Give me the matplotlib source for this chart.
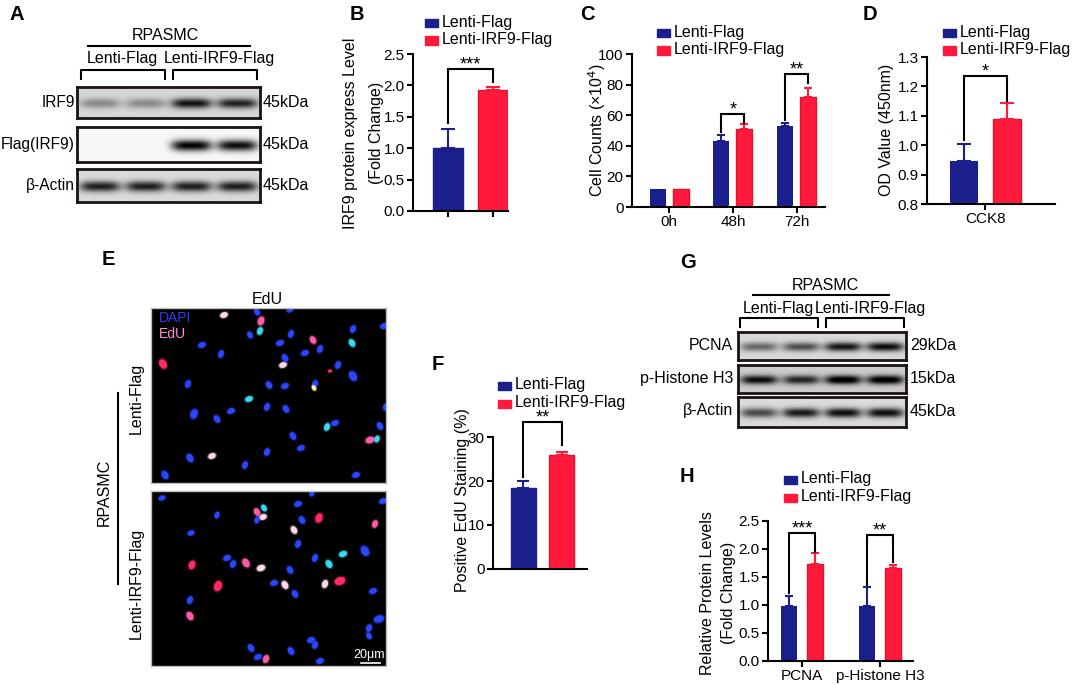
import numpy as np
import matplotlib
matplotlib.use("Agg")
import matplotlib.pyplot as plt
from matplotlib.patches import Rectangle

plt.rcParams["font.family"] = ["Liberation Sans", "DejaVu Sans"]
plt.rcParams["font.size"] = 11.5
plt.rcParams["axes.linewidth"] = 1.2

W, H = 1072, 685
BLUE = "#1b1f8c"
RED = "#ff1a3c"

# ---- data ----
legend_labels = ["Lenti-Flag", "Lenti-IRF9-Flag"]

# B: IRF9 protein level
b_vals = [1.00, 1.93]
b_err = [0.30, 0.05]

# C: cell counts
c_groups = ["0h", "48h", "72h"]
c_flag = [12, 43, 53]
c_flag_err = [0, 4, 2]
c_irf9 = [12, 51, 72]
c_irf9_err = [0, 3, 6]

# D: CCK8
d_groups = ["CCK8"]
d_flag = [0.945]
d_flag_err = [0.06]
d_irf9 = [1.089]
d_irf9_err = [0.054]

# F: EdU staining
f_vals = [18.4, 25.9]
f_err = [1.6, 0.7]

# H: relative protein levels
h_groups = ["PCNA", "p-Histone H3"]
h_flag = [0.99, 0.99]
h_flag_err = [0.17, 0.33]
h_irf9 = [1.74, 1.66]
h_irf9_err = [0.19, 0.05]

# western blot band intensities (4 lanes)
a_rows = ["IRF9", "Flag(IRF9)", "β-Actin"]
a_kda = ["45kDa", "45kDa", "45kDa"]
a_bands = [[0.30, 0.30, 0.78, 0.72],
           [0.00, 0.00, 0.97, 0.92],
           [0.75, 0.75, 0.75, 0.75]]
a_bg = [0.84, 0.97, 0.86]

g_rows = ["PCNA", "p-Histone H3", "β-Actin"]
g_kda = ["29kDa", "15kDa", "45kDa"]
g_bands = [[0.45, 0.55, 0.78, 0.82],
           [0.78, 0.68, 0.88, 0.88],
           [0.58, 0.78, 0.82, 0.82]]
g_bg = [0.85, 0.80, 0.86]

# EdU nuclei (x, y in px inside each image, kind: b/c/p/r/w/y, size)
e_top_x = [73, 110, 106, 139, 109, 99, 51, 70, 12, 129, 140, 162, 154, 169, 134, 132,
           202, 201, 233, 187, 202, 179, 37, 118, 134, 164, 163, 98, 116, 135, 80, 43,
           66, 184, 176, 229, 219, 226, 142, 150, 116, 39, 61, 94, 14, 205, 235]
e_top_y = [7, 13, 4, 2, 23, 27, 37, 46, 56, 35, 26, 32, 45, 41, 50, 57,
           21, 35, 18, 57, 68, 63, 76, 77, 78, 76, 80, 91, 99, 101, 103, 106,
           111, 115, 119, 118, 132, 131, 128, 140, 144, 150, 148, 157, 167, 167, 99]
e_top_k = "wpbbcbbbrbbpbbbwbcbbbrbbbbycbbbbbbcbpcbbbbwbbbb"
e_top_s = [1, 1.3, 0.8, 0.7, 1, 0.8, 1, 1, 1.5, 1, 1, 1, 1, 1, 1, 1,
           1, 1, 1, 1, 1.6, 0.3, 1, 1, 1, 1, 0.5, 1, 1, 1, 1, 1.6,
           1, 1, 1, 1, 1.3, 0.8, 1, 1, 1, 1.2, 1, 1, 1.2, 1, 1]

e_bot_x = [11, 66, 106, 112, 106, 113, 147, 168, 151, 232, 224, 143, 40, 147, 214, 192,
           164, 178, 76, 82, 95, 110, 41, 139, 189, 174, 134, 123, 67, 144, 222, 39,
           39, 228, 218, 218, 160, 164, 100, 107, 115, 140, 169, 161]
e_bot_y = [7, 24, 21, 26, 29, 17, 13, 27, 29, 10, 33, 39, 42, 53, 60, 63,
           67, 73, 67, 73, 72, 77, 74, 79, 90, 93, 94, 92, 95, 103, 100, 109,
           125, 128, 137, 145, 149, 154, 157, 166, 168, 160, 170, 2]
e_bot_k = "bbpwbcbrbbpwbbbcbcbbpwrbrwwbrbbbpbbbbbbbpbbb"
e_bot_s = [0.8, 0.8, 1, 1, 0.8, 0.8, 1, 1.5, 1, 1, 1, 1, 0.8, 1, 1.7, 1.1,
           1, 1.1, 1, 1, 1.3, 1.2, 1.3, 1, 1.9, 1.1, 1.1, 1, 1.8, 1, 1, 1,
           1.2, 1.7, 1, 0.8, 1, 1, 1, 1, 1.1, 1, 1, 0.8]

NUC_COL = {"b": "#2a46ff", "c": "#38d8ee", "p": "#ff5aaa", "r": "#ff2a66",
           "w": "#ffd6ea", "y": "#fff0b0"}

fig = plt.figure(figsize=(W / 100, H / 100), dpi=100)


def box(x0, y0, x1, y1):
    return [x0 / W, 1 - y1 / H, (x1 - x0) / W, (y1 - y0) / H]


def txt(x, y, s, **kw):
    kw.setdefault("va", "center")
    fig.text(x / W, 1 - y / H, s, **kw)


def fline(xs, ys, lw=1.5, color="k"):
    fig.add_artist(plt.Line2D([x / W for x in xs], [1 - y / H for y in ys],
                              lw=lw, color=color))


def letter(x, y, s):
    txt(x, y, s, fontsize=14.5, fontweight="bold", ha="left")


def legend_at(x, y):
    for i, (lab, col) in enumerate(zip(legend_labels, [BLUE, RED])):
        yy = y + i * 17.5
        fig.add_artist(Rectangle((x / W, 1 - (yy + 4) / H), 13 / W, 8 / H,
                                 color=col, transform=fig.transFigure))
        txt(x + 17, yy - 1, lab, ha="left")


def style(ax):
    for s in ["top", "right"]:
        ax.spines[s].set_visible(False)
    ax.spines["left"].set_linewidth(1.5)
    ax.spines["bottom"].set_linewidth(1.5)
    ax.tick_params(width=1.5, length=4, labelsize=11, pad=2)


def sig(ax, x1, x2, top, y1, y2, s):
    ax.plot([x1, x1, x2, x2], [y1, top, top, y2], color="k", lw=1.5,
            clip_on=False, solid_joinstyle="miter")
    ax.annotate(s, ((x1 + x2) / 2, top), xytext=(0, -3.5), textcoords="offset points",
                ha="center", va="bottom", fontsize=13, annotation_clip=False)


def ebar(ax, x, v, e, col, cap):
    ax.errorbar(x, v, yerr=[np.zeros(len(e)), e], fmt="none", ecolor=col,
                elinewidth=1.5, capsize=cap, capthick=1.5, clip_on=False)


def blot(x0, y0, x1, y1, lanes, bg):
    ax = fig.add_axes(box(x0, y0, x1, y1))
    h, w = int(y1 - y0) * 2, int(x1 - x0) * 2
    yy, xx = np.mgrid[0:h, 0:w]
    img = np.full((h, w), bg)
    for i, v in enumerate(lanes):
        cx = (i + 0.5) * w / 4
        px = np.exp(-((xx - cx) / (w * 0.11)) ** 4)
        py = np.exp(-((yy - h * 0.52) / (h * 0.16)) ** 2)
        img = img - v * px * py
    ax.imshow(img, cmap="gray", vmin=0, vmax=1, aspect="auto", interpolation="bilinear")
    ax.set_xticks([])
    ax.set_yticks([])
    for s in ax.spines.values():
        s.set_linewidth(2)
        s.set_color("#1c1212")
    return ax


def bracket(x0, x1, y0, y1):
    fline([x0, x0, x1, x1], [y1, y0, y0, y1])


def ellipse_marker(angle):
    t = np.linspace(0, 2 * np.pi, 30)
    a = np.deg2rad(angle)
    x, y = np.cos(t), 0.72 * np.sin(t)
    return np.column_stack([x * np.cos(a) - y * np.sin(a), x * np.sin(a) + y * np.cos(a)])


# ---- A: western blot ----
letter(10, 15, "A")
txt(165, 35, "RPASMC", ha="center")
fline([88, 250], [46, 46])
txt(122, 59, "Lenti-Flag", ha="center")
txt(219, 59, "Lenti-IRF9-Flag", ha="center")
bracket(81, 165, 70, 79)
bracket(173, 257, 70, 79)
a_boxes = [(87, 118), (127, 162), (169, 202)]
for (y0, y1), name, kda, lanes, bg in zip(a_boxes, a_rows, a_kda, a_bands, a_bg):
    blot(77, y0, 260, y1, lanes, bg)
    txt(75, (y0 + y1) / 2, name, ha="right", fontsize=11.2)
    txt(263, (y0 + y1) / 2, kda, ha="left")

# ---- B ----
letter(350, 15, "B")
axB = fig.add_axes(box(413, 54, 508, 211))
xb = np.arange(2)
axB.bar(xb, b_vals, width=0.667, color=[BLUE, RED], edgecolor=[BLUE, "#e8102e"], lw=1)
for i in range(2):
    ebar(axB, [xb[i]], [b_vals[i]], [b_err[i]], [BLUE, RED][i], 5)
axB.set_xlim(-0.78, 1.333)
axB.set_ylim(0, 2.5)
axB.set_yticks(np.arange(0, 2.51, 0.5))
axB.set_yticklabels([f"{v:.1f}" for v in np.arange(0, 2.51, 0.5)])
axB.set_xticks(xb)
axB.set_xticklabels([])
style(axB)
sig(axB, 0, 1, 2.26, 1.40, 2.06, "***")
txt(351, 133, "IRF9 protein express Level", rotation=90, ha="center")
txt(376, 133, "(Fold Change)", rotation=90, ha="center")
legend_at(425, 23)

# ---- C ----
letter(580, 15, "C")
axC = fig.add_axes(box(632, 54, 825, 207))
xc = np.arange(len(c_groups))
axC.bar(xc - 0.18, c_flag, width=0.25, color=BLUE)
axC.bar(xc + 0.18, c_irf9, width=0.25, color=RED, edgecolor="#e8102e", lw=1)
ebar(axC, xc[1:] - 0.18, c_flag[1:], c_flag_err[1:], BLUE, 3)
ebar(axC, xc[1:] + 0.18, c_irf9[1:], c_irf9_err[1:], RED, 3)
axC.set_xlim(-0.58, 2.44)
axC.set_ylim(0, 100)
axC.set_yticks(range(0, 101, 20))
axC.set_xticks(xc)
axC.set_xticklabels(c_groups)
style(axC)
sig(axC, 1 - 0.18, 1 + 0.18, 61, 49, 55, "*")
sig(axC, 2 - 0.18, 2 + 0.18, 87, 57, 81, "**")
txt(597, 130, "Cell Counts (×10$^4$)", rotation=90, ha="center")
legend_at(657, 33)

# ---- D ----
letter(863, 15, "D")
axD = fig.add_axes(box(927, 57, 1055, 204))
xd = np.arange(len(d_groups))
axD.bar(xd - 0.25, d_flag, width=0.326, color=BLUE)
axD.bar(xd + 0.25, d_irf9, width=0.326, color=RED, edgecolor="#e8102e", lw=1)
ebar(axD, xd - 0.25, d_flag, d_flag_err, BLUE, 5)
ebar(axD, xd + 0.25, d_irf9, d_irf9_err, RED, 5)
axD.set_xlim(-0.674, 0.81)
axD.set_ylim(0.8, 1.3)
axD.set_yticks(np.arange(0.8, 1.31, 0.1))
axD.set_yticklabels([f"{v:.1f}" for v in np.arange(0.8, 1.31, 0.1)])
axD.set_xticks(xd)
axD.set_xticklabels(d_groups)
style(axD)
sig(axD, -0.25, 0.25, 1.235, 1.018, 1.15, "*")
txt(887, 130, "OD Value (450nm)", rotation=90, ha="center")
legend_at(943, 33)

# ---- E: EdU images ----
letter(102, 259, "E")
txt(267, 299, "EdU", ha="center")
for (y0, y1), xs, ys, ks, ss in [((308, 483), e_top_x, e_top_y, e_top_k, e_top_s),
                                 ((491, 666), e_bot_x, e_bot_y, e_bot_k, e_bot_s)]:
    ax = fig.add_axes(box(151, y0, 386, y1))
    ax.set_facecolor("black")
    ax.set_xlim(0, 235)
    ax.set_ylim(175, 0)
    xs, ys = np.array(xs), np.array(ys)
    cols = np.array([NUC_COL[k] for k in ks])
    sizes = np.array(ss) * 30
    for j, ang in enumerate([20, 70, 120]):
        m = np.arange(len(xs)) % 3 == j
        mk = ellipse_marker(ang)
        ax.scatter(xs[m], ys[m], s=sizes[m] * 1.8, c=cols[m], alpha=0.3, lw=0, marker=mk)
        ax.scatter(xs[m], ys[m], s=sizes[m], c=cols[m], lw=0, marker=mk)
    ax.set_xticks([])
    ax.set_yticks([])
    for s in ax.spines.values():
        s.set_color("#bdbdbd")
        s.set_linewidth(1)
txt(159, 318, "DAPI", ha="left", color="#2f3cff", fontsize=10)
txt(159, 334, "EdU", ha="left", color="#ff8fd0", fontsize=10)
txt(369, 655, "20μm", ha="center", color="white", fontsize=9)
fline([361, 380], [663, 663], lw=1.2, color="white")
txt(136, 398, "Lenti-Flag", rotation=90, ha="center")
txt(136, 583, "Lenti-IRF9-Flag", rotation=90, ha="center")
txt(104, 492, "RPASMC", rotation=90, ha="center")
fline([118, 118], [393, 584], lw=1.5)

# ---- F ----
letter(432, 365, "F")
axF = fig.add_axes(box(493, 437, 587, 569))
xf = np.arange(2)
axF.bar(xf, f_vals, width=0.66, color=[BLUE, RED], edgecolor=[BLUE, "#e8102e"], lw=1)
for i in range(2):
    ebar(axF, [xf[i]], [f_vals[i]], [f_err[i]], [BLUE, RED][i], 4)
axF.set_xlim(-0.80, 1.67)
axF.set_ylim(0, 30)
axF.set_yticks([0, 10, 20, 30])
axF.set_xticks([])
style(axF)
sig(axF, 0, 1, 33.4, 20.9, 28.2, "**")
txt(462, 500, "Positive EdU Staining (%)", rotation=90, ha="center")
legend_at(498, 386)

# ---- G: western blot ----
letter(680, 262, "G")
txt(825, 286, "RPASMC", ha="center")
fline([753, 889], [295, 295])
txt(778, 308, "Lenti-Flag", ha="center")
txt(870, 308, "Lenti-IRF9-Flag", ha="center")
bracket(740, 818, 318, 327)
bracket(826, 904, 318, 327)
g_boxes = [(332, 360), (365, 393), (397, 427)]
for (y0, y1), name, kda, lanes, bg in zip(g_boxes, g_rows, g_kda, g_bands, g_bg):
    blot(738, y0, 906, y1, lanes, bg)
    txt(733, (y0 + y1) / 2 - 1, name, ha="right")
    txt(910, (y0 + y1) / 2, kda, ha="left")

# ---- H ----
letter(680, 477, "H")
axH = fig.add_axes(box(768, 521, 913, 661))
xh = np.arange(len(h_groups))
axH.bar(xh - 0.167, h_flag, width=0.205, color=BLUE)
axH.bar(xh + 0.167, h_irf9, width=0.205, color=RED, edgecolor="#e8102e", lw=1)
ebar(axH, xh - 0.167, h_flag, h_flag_err, BLUE, 3)
ebar(axH, xh + 0.167, h_irf9, h_irf9_err, RED, 3)
axH.set_xlim(-0.436, 1.42)
axH.set_ylim(0, 2.5)
axH.set_yticks(np.arange(0, 2.51, 0.5))
axH.set_yticklabels([f"{v:.1f}" for v in np.arange(0, 2.51, 0.5)])
axH.set_xticks(xh)
axH.set_xticklabels(h_groups)
style(axH)
sig(axH, -0.167, 0.167, 2.29, 1.21, 1.95, "***")
sig(axH, 1 - 0.167, 1 + 0.167, 2.25, 1.36, 1.77, "**")
txt(707, 593, "Relative Protein Levels", rotation=90, ha="center")
txt(729, 593, "(Fold Change)", rotation=90, ha="center")
legend_at(784, 480)

fig.savefig("out.png", dpi=100)
